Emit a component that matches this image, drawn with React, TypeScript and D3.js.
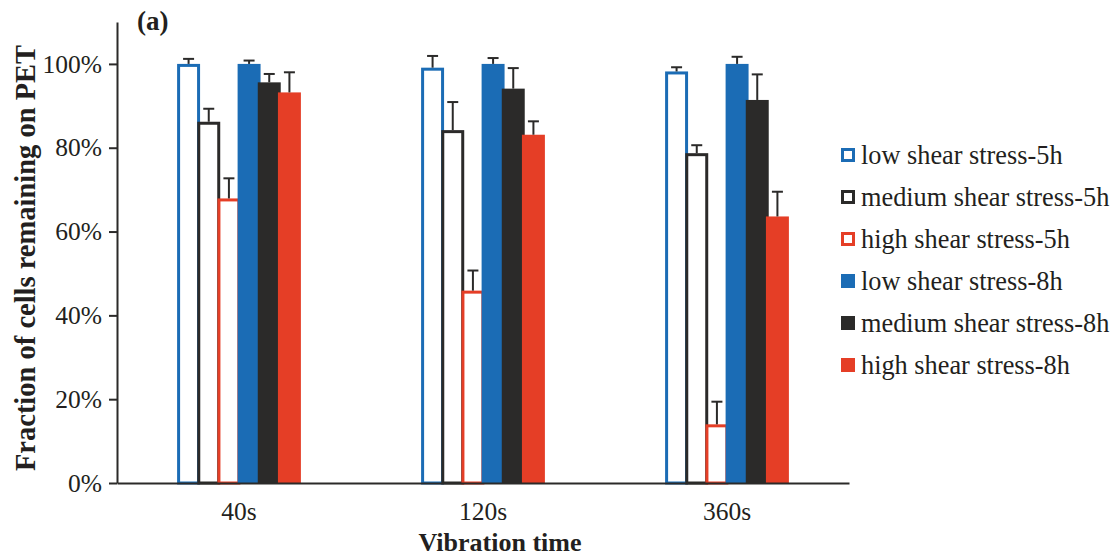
import { useEffect, useRef } from "react";
import * as d3 from "d3";

const groups = ["40s", "120s", "360s"];
const seriesNames = [
  "low shear stress-5h",
  "medium shear stress-5h",
  "high shear stress-5h",
  "low shear stress-8h",
  "medium shear stress-8h",
  "high shear stress-8h",
];
const seriesColors = ["#1b6cb5", "#2b2a29", "#e53e26", "#1b6cb5", "#2b2a29", "#e53e26"];
const seriesFilled = [false, false, false, true, true, true];
// values in % per series, one per group
const values = [
  [100, 99.1, 98.2],
  [86.2, 84.2, 78.7],
  [67.9, 45.9, 14.0],
  [100, 100, 100],
  [95.6, 94.1, 91.4],
  [93.2, 83.1, 63.6],
];
const errors = [
  [1.2, 2.8, 1.0],
  [3.1, 6.7, 1.9],
  [4.8, 4.8, 5.4],
  [0.8, 1.4, 1.7],
  [2.0, 4.9, 6.1],
  [4.8, 3.2, 5.9],
];
const yTicks = [0, 20, 40, 60, 80, 100];

const FONT = "'Liberation Serif', 'Times New Roman', serif";
const INK = "#231f20";

const App = () => {
  const svgRef = useRef<SVGSVGElement>(null);

  useEffect(() => {
    const w = 1120;
    const h = 559;
    const left = 117, right = 849, top = 22, bottom = 483;

    const svg = d3.select(svgRef.current).attr("width", w).attr("height", h);
    svg.selectAll("*").remove();

    const x0 = d3.scaleBand().domain(groups).range([left, right]);
    const inner = 121;
    const x1 = d3.scaleBand().domain(seriesNames).range([0, inner]);
    const y = d3.scaleLinear().domain([0, 110]).range([bottom, top]);

    const bw = x1.bandwidth() + 2.8;

    // bars
    seriesNames.forEach((s, si) => {
      const g = svg.append("g");
      groups.forEach((grp, gi) => {
        const cx = x0(grp)! + (x0.bandwidth() - inner) / 2 + x1(s)! + x1.bandwidth() / 2;
        const v = values[si][gi];
        if (seriesFilled[si]) {
          g.append("rect")
            .attr("x", cx - bw / 2)
            .attr("y", y(v))
            .attr("width", bw)
            .attr("height", y(0) - y(v))
            .attr("fill", seriesColors[si]);
        } else {
          g.append("rect")
            .attr("x", cx - bw / 2 + 1.5)
            .attr("y", y(v) + 1.5)
            .attr("width", bw - 3)
            .attr("height", y(0) - y(v) - 1.5)
            .attr("fill", "#fff")
            .attr("stroke", seriesColors[si])
            .attr("stroke-width", 3);
        }
        // error bar (upper)
        const e = errors[si][gi];
        g.append("line")
          .attr("x1", cx).attr("x2", cx)
          .attr("y1", y(v)).attr("y2", y(v + e))
          .attr("stroke", "#2b2a29").attr("stroke-width", 2);
        g.append("line")
          .attr("x1", cx - 5.5).attr("x2", cx + 5.5)
          .attr("y1", y(v + e)).attr("y2", y(v + e))
          .attr("stroke", "#2b2a29").attr("stroke-width", 2);
      });
    });

    // y axis
    const yAxis = d3.axisLeft(y)
      .tickValues(yTicks)
      .tickSize(8)
      .tickSizeOuter(0)
      .tickPadding(7)
      .tickFormat((d) => `${d}%`);
    const ya = svg.append("g").attr("transform", `translate(${left},0)`).call(yAxis);
    ya.select(".domain").attr("stroke", "#2b2a29").attr("stroke-width", 2);
    ya.selectAll(".tick line").attr("stroke", "#2b2a29").attr("stroke-width", 2);
    ya.selectAll(".tick text")
      .attr("font-family", FONT).attr("font-size", 25.5).attr("fill", INK);

    // x axis
    const xAxis = d3.axisBottom(x0).tickSize(0).tickSizeOuter(0).tickPadding(19);
    const xa = svg.append("g").attr("transform", `translate(0,${bottom})`).call(xAxis);
    xa.select(".domain").attr("stroke", "#2b2a29").attr("stroke-width", 2);
    xa.selectAll(".tick text")
      .attr("font-family", FONT).attr("font-size", 25.5).attr("fill", INK);

    // titles
    svg.append("text")
      .attr("x", 500).attr("y", 551)
      .attr("text-anchor", "middle")
      .attr("font-family", FONT).attr("font-weight", "bold").attr("font-size", 26)
      .attr("fill", INK)
      .text("Vibration time");
    svg.append("text")
      .attr("transform", `translate(35,258) rotate(-90)`)
      .attr("text-anchor", "middle")
      .attr("font-family", FONT).attr("font-weight", "bold").attr("font-size", 28.5)
      .attr("fill", INK)
      .text("Fraction of cells remaining on PET");
    svg.append("text")
      .attr("x", 137).attr("y", 30)
      .attr("font-family", FONT).attr("font-weight", "bold").attr("font-size", 27)
      .attr("fill", INK)
      .text("(a)");

    // legend
    const lg = svg.append("g").attr("transform", "translate(841,155)");
    seriesNames.forEach((s, i) => {
      const row = lg.append("g").attr("transform", `translate(0,${i * 42})`);
      if (seriesFilled[i]) {
        row.append("rect").attr("x", 0).attr("y", -7).attr("width", 14).attr("height", 14)
          .attr("fill", seriesColors[i]);
      } else {
        row.append("rect").attr("x", 1.5).attr("y", -5.5).attr("width", 11).attr("height", 11)
          .attr("fill", "#fff").attr("stroke", seriesColors[i]).attr("stroke-width", 3);
      }
      row.append("text")
        .attr("x", 20).attr("y", 0).attr("dy", "0.35em")
        .attr("font-family", FONT).attr("font-size", 26.3).attr("fill", INK)
        .text(s);
    });
  }, []);

  return (
    <div style={{ margin: -8 }}>
      <svg ref={svgRef} style={{ display: "block", background: "#fff" }}></svg>
    </div>
  );
};

export default App;
